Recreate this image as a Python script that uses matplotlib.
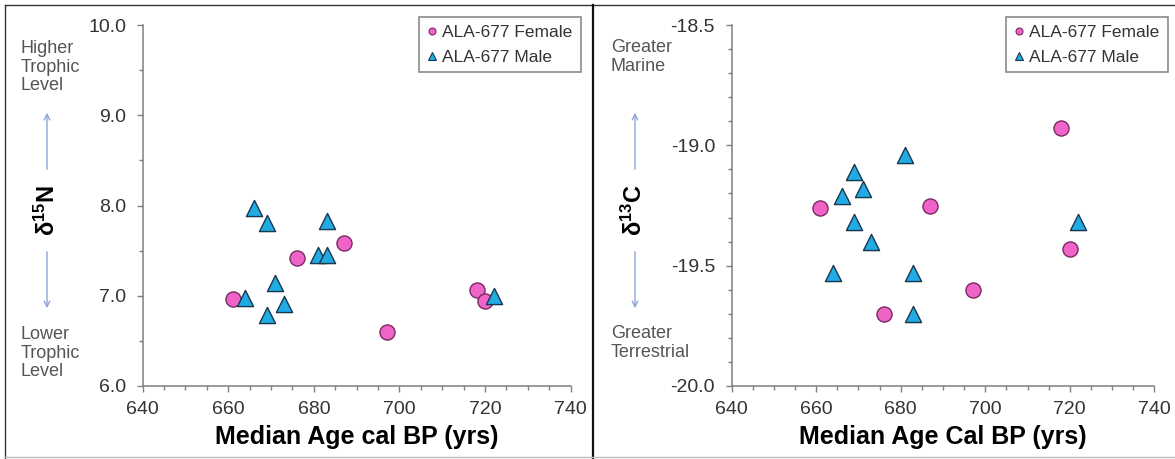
import matplotlib
matplotlib.use("Agg")
import matplotlib.pyplot as plt
from matplotlib.lines import Line2D
from matplotlib.ticker import MultipleLocator, FormatStrFormatter

plt.rcParams['font.family'] = ['Liberation Sans', 'DejaVu Sans']
plt.rcParams['axes.unicode_minus'] = False
plt.rcParams['mathtext.fontset'] = 'custom'
plt.rcParams['mathtext.rm'] = 'Liberation Sans'
plt.rcParams['mathtext.bf'] = 'Liberation Sans:bold'

# values
female_age = [661, 676, 687, 697, 718, 720]
female_d15n = [6.96, 7.42, 7.58, 6.60, 7.06, 6.94]
female_d13c = [-19.26, -19.70, -19.25, -19.60, -18.93, -19.43]

male_age = [664, 666, 669, 669, 671, 673, 681, 683, 683, 722]
male_d15n = [6.98, 7.97, 7.81, 6.79, 7.14, 6.91, 7.45, 7.45, 7.83, 7.00]
male_d13c = [-19.53, -19.21, -19.11, -19.32, -19.18, -19.40, -19.04, -19.53, -19.70, -19.32]

series_labels = ["ALA-677 Female", "ALA-677 Male"]

W, H = 1175, 459
PINK, PINK_EDGE = '#f064c8', '#7a2a62'
BLUE, BLUE_EDGE = '#22aae2', '#18384f'
AXIS_GRAY = '#7f7f7f'
TEXT_GRAY = '#555555'
ARROW_BLUE = '#8ca6d8'


def px(x, y):
    # pixel position -> figure fraction
    return x / W, 1 - y / H


fig = plt.figure(figsize=(W / 100, H / 100), dpi=100)


def make_panel(x0, x1, y_vals_f, y_vals_m, ylim, major, minor, xlabel):
    ax = fig.add_axes([x0 / W, 1 - 386 / H, (x1 - x0) / W, 361 / H])
    ax.scatter(female_age, y_vals_f, s=118, marker='o', color=PINK,
               edgecolor=PINK_EDGE, linewidth=1.0, zorder=3, clip_on=False)
    ax.scatter(male_age, y_vals_m, s=135, marker='^', color=BLUE,
               edgecolor=BLUE_EDGE, linewidth=1.0, zorder=4, clip_on=False)
    ax.set_xlim(640, 740)
    ax.set_ylim(*ylim)
    ax.xaxis.set_major_locator(MultipleLocator(20))
    ax.xaxis.set_minor_locator(MultipleLocator(5))
    ax.yaxis.set_major_locator(MultipleLocator(major))
    ax.yaxis.set_minor_locator(MultipleLocator(minor))
    ax.yaxis.set_major_formatter(FormatStrFormatter('%.1f'))
    for side in ['top', 'right']:
        ax.spines[side].set_visible(False)
    for side in ['left', 'bottom']:
        ax.spines[side].set_color(AXIS_GRAY)
        ax.spines[side].set_linewidth(1.1)
    ax.tick_params(which='both', color=AXIS_GRAY, width=1.0, direction='out')
    ax.tick_params(which='major', length=4, labelsize=14, labelcolor='#333333')
    ax.tick_params(which='minor', length=3)
    ax.tick_params(axis='x', pad=7)
    ax.tick_params(axis='y', pad=8)
    ax.set_xlabel(xlabel, fontsize=18, fontweight='bold', labelpad=5)

    handles = [
        Line2D([], [], ls='none', marker='o', ms=5, color=PINK, mec=PINK_EDGE, mew=0.8),
        Line2D([], [], ls='none', marker='^', ms=5.5, color=BLUE, mec=BLUE_EDGE, mew=0.8),
    ]
    return ax, handles


axL, hL = make_panel(142.7, 570.7, female_d15n, male_d15n, (6.0, 10.0), 1.0, 0.5,
                     "Median Age cal BP (yrs)")
axR, hR = make_panel(731.7, 1154.3, female_d13c, male_d13c, (-20.0, -18.5), 0.5, 0.1,
                     "Median Age Cal BP (yrs)")

for handles, lx in [(hL, 419), (hR, 1006)]:
    leg = fig.legend(handles, series_labels, loc='upper left',
                     bbox_to_anchor=px(lx, 17), fontsize=12.5, frameon=True,
                     fancybox=False, handlelength=0.6, handletextpad=0.3,
                     borderpad=0.45, labelspacing=0.55, borderaxespad=0)
    leg.get_frame().set_edgecolor('#606060')
    leg.get_frame().set_linewidth(1.1)
    for t in leg.get_texts():
        t.set_color('#333333')

# y labels with arrows and side notes
fig.text(*px(47, 210), r'$\mathbf{\delta^{15}N}$', rotation=90, ha='center', va='center',
         fontsize=17)
fig.text(*px(634, 210), r'$\mathbf{\delta^{13}C}$', rotation=90, ha='center', va='center',
         fontsize=17)

for ax_x in [47, 635]:
    fig.add_artist(matplotlib.patches.FancyArrowPatch(
        px(ax_x, 172), px(ax_x, 110), transform=fig.transFigure,
        arrowstyle='->', mutation_scale=10, color=ARROW_BLUE, lw=1.0))
    fig.add_artist(matplotlib.patches.FancyArrowPatch(
        px(ax_x, 249), px(ax_x, 311), transform=fig.transFigure,
        arrowstyle='->', mutation_scale=10, color=ARROW_BLUE, lw=1.0))

note_kw = dict(ha='left', va='center', fontsize=13, color=TEXT_GRAY, linespacing=1.12)
fig.text(*px(21, 67), "Higher\nTrophic\nLevel", **note_kw)
fig.text(*px(21, 353), "Lower\nTrophic\nLevel", **note_kw)
fig.text(*px(611, 57), "Greater\nMarine", **note_kw)
fig.text(*px(611, 343), "Greater\nTerrestrial", **note_kw)

# frame lines around the composite
fig.add_artist(Line2D([5 / W, 1], [1 - 5 / H, 1 - 5 / H], transform=fig.transFigure,
                      color='#333333', lw=1.0))
fig.add_artist(Line2D([5 / W, 5 / W], [0, 1 - 5 / H], transform=fig.transFigure,
                      color='#333333', lw=1.0))
fig.add_artist(Line2D([593 / W, 593 / W], [0, 1 - 5 / H], transform=fig.transFigure,
                      color='#111111', lw=1.6))
fig.add_artist(Line2D([5 / W, 1], [1 - 457 / H, 1 - 457 / H], transform=fig.transFigure,
                      color='#bbbbbb', lw=1.0))

fig.savefig("out.png", dpi=100)
